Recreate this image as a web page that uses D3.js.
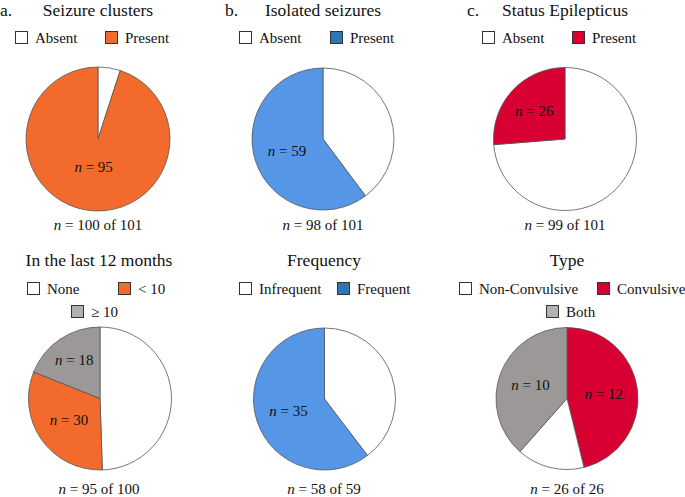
<!DOCTYPE html>
<html>
<head>
<meta charset="utf-8">
<script src="https://cdn.jsdelivr.net/npm/d3@7"></script>
<style>
  html, body { margin: 0; padding: 0; background: #fff; }
  svg { display: block; }
  svg text { font-family: 'Liberation Serif', 'Times New Roman', Tinos, 'DejaVu Serif', serif; }
</style>
</head>
<body>
<svg id="chart" width="685" height="497"></svg>
<script>
// ---------- Data ----------
const clusterCategories = ["Absent", "Present"];
const clusterValues = [5, 95];

const isolatedCategories = ["Absent", "Present"];
const isolatedValues = [39, 59];

const statusCategories = ["Absent", "Present"];
const statusValues = [73, 26];

const last12Categories = ["None", "< 10", "\u2265 10"];
const last12Values = [47, 30, 18];

const frequencyCategories = ["Infrequent", "Frequent"];
const frequencyValues = [23, 35];

const typeCategories = ["Non-Convulsive", "Convulsive", "Both"];
const typeValues = [4, 12, 10];
const typeSliceOrder = ["Convulsive", "Non-Convulsive", "Both"];

const panelTitles = ["Seizure clusters", "Isolated seizures", "Status Epilepticus",
                     "In the last 12 months", "Frequency", "Type"];
const panelLetters = ["a.", "b.", "c.", "", "", ""];
const panelTotals = [["100", "101"], ["98", "101"], ["99", "101"],
                     ["95", "100"], ["58", "59"], ["26", "26"]];

// ---------- Styles / layout ----------
const FONT = "'Liberation Serif', 'Times New Roman', Tinos, 'DejaVu Serif', serif";
const WHITE = "#ffffff", ORANGE = "#F26A2C", BLUE = "#5597E6", BLUE_DARK = "#2E75B6",
      RED = "#D80032", GREY = "#9C9897", GREY_LIGHT = "#B4B0AF";

const panels = [
  { cats: clusterCategories, vals: clusterValues, order: clusterCategories,
    fill: [WHITE, ORANGE], legFill: [WHITE, ORANGE], labelled: [false, true],
    cx: 98, cy: 139, r: 72, titleX: 98, letterX: 0, rowY: 0,
    legend: [[15, 31], [105, 31]], labelR: [0, 28] },
  { cats: isolatedCategories, vals: isolatedValues, order: isolatedCategories,
    fill: [WHITE, BLUE], legFill: [WHITE, BLUE_DARK], labelled: [false, true],
    cx: 323, cy: 139, r: 71, titleX: 323, letterX: 225, rowY: 0,
    legend: [[239, 31], [330, 31]], labelR: [0, 38] },
  { cats: statusCategories, vals: statusValues, order: statusCategories,
    fill: [WHITE, RED], legFill: [WHITE, RED], labelled: [false, true],
    cx: 565, cy: 139, r: 71.5, titleX: 565, letterX: 467, rowY: 0,
    legend: [[482, 31], [572, 31]], labelR: [0, 42] },
  { cats: last12Categories, vals: last12Values, order: last12Categories,
    fill: [WHITE, ORANGE, GREY], legFill: [WHITE, ORANGE, GREY_LIGHT], labelled: [false, true, true],
    cx: 100, cy: 398.5, r: 71.5, titleX: 99, letterX: 0, rowY: 260,
    legend: [[27, 282], [118, 282], [71, 305]], labelR: [0, 38, 46] },
  { cats: frequencyCategories, vals: frequencyValues, order: frequencyCategories,
    fill: [WHITE, BLUE], legFill: [WHITE, BLUE_DARK], labelled: [false, true],
    cx: 324.5, cy: 399, r: 71, titleX: 324, letterX: 0, rowY: 260,
    legend: [[239, 282], [337, 282]], labelR: [0, 38] },
  { cats: typeCategories, vals: typeValues, order: typeSliceOrder,
    fill: [WHITE, RED, GREY], legFill: [WHITE, RED, GREY_LIGHT], labelled: [false, true, true],
    cx: 567, cy: 398.5, r: 71, titleX: 567, letterX: 0, rowY: 260,
    legend: [[459, 282], [597, 282], [546, 305]], labelR: [0, 37, 39] }
];

const svg = d3.select("#chart");

function txt(sel) {
  return sel.append("text").attr("font-family", FONT).attr("fill", "#111");
}

panels.forEach((p, i) => {
  const g = svg.append("g");
  const ty = p.rowY === 0 ? 16 : 266;

  if (panelLetters[i]) {
    txt(g).attr("x", p.letterX).attr("y", ty).attr("font-size", 17.5).text(panelLetters[i]);
  }
  txt(g).attr("x", p.titleX).attr("y", ty)
    .attr("text-anchor", "middle").attr("font-size", 17.5)
    .text(panelTitles[i]);

  // legend
  p.cats.forEach((c, k) => {
    const [lx, ly] = p.legend[k];
    g.append("rect").attr("x", lx + 0.5).attr("y", ly + 0.5).attr("width", 12).attr("height", 12)
      .attr("fill", p.legFill[k]).attr("stroke", "#333").attr("stroke-width", 1);
    txt(g).attr("x", lx + 20).attr("y", ly + 11.5).attr("font-size", 15).text(c);
  });

  // pie data in drawing order
  const slices = p.order.map(name => {
    const k = p.cats.indexOf(name);
    return { name, value: p.vals[k], k };
  });
  const pie = d3.pie().sort(null).value(d => d.value);
  const arcs = pie(slices);
  const arc = d3.arc().innerRadius(0).outerRadius(p.r);

  const pg = g.append("g").attr("transform", `translate(${p.cx},${p.cy})`);
  pg.selectAll("path").data(arcs).join("path")
    .attr("d", arc)
    .attr("fill", d => p.fill[d.data.k])
    .attr("stroke", "#555").attr("stroke-width", 0.8).attr("stroke-linejoin", "round");

  arcs.forEach(a => {
    if (!p.labelled[a.data.k]) return;
    const lr = p.labelR[a.data.k];
    const c = d3.arc().innerRadius(lr).outerRadius(lr).centroid(a);
    const t = txt(pg).attr("x", c[0]).attr("y", c[1] + 5)
      .attr("text-anchor", "middle").attr("font-size", 15);
    t.append("tspan").attr("font-style", "italic").text("n");
    t.append("tspan").text(" = " + a.data.value);
  });

  const sy = p.rowY === 0 ? 230 : 494;
  const s = txt(g).attr("x", p.titleX).attr("y", sy)
    .attr("text-anchor", "middle").attr("font-size", 15);
  s.append("tspan").attr("font-style", "italic").text("n");
  s.append("tspan").text(` = ${panelTotals[i][0]} of ${panelTotals[i][1]}`);
});
</script>
</body>
</html>
